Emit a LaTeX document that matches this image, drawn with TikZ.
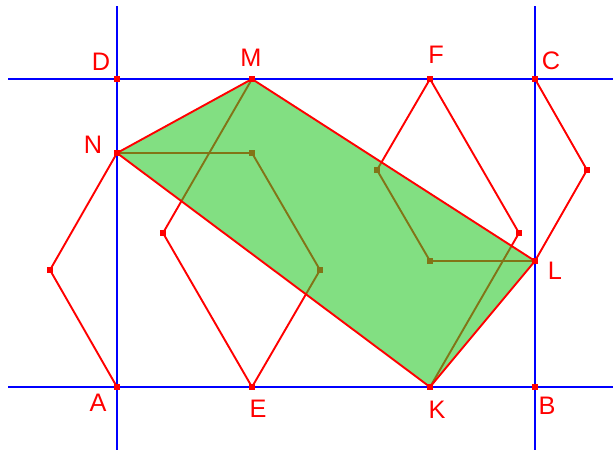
\documentclass[tikz,border=0pt]{standalone}
\usepackage{fontspec}
\setmainfont{Liberation Sans}
\definecolor{polygreen}{RGB}{40,200,40}
\begin{document}
\begin{tikzpicture}[x=0.025cm,y=-0.025cm,
  side/.style={red,line width=1.35pt,line join=round},
  axis/.style={blue,line width=1.5pt},
  lbl/.style={red,font=\fontsize{18}{21}\selectfont}]
  \useasboundingbox (0,0) rectangle (613,450);
  % 長方形の頂点と分点
  \coordinate (A) at (117,387); \coordinate (B) at (535,387);
  \coordinate (C) at (535,79);  \coordinate (D) at (117,79);
  \coordinate (M) at (252,79);  \coordinate (F) at (430,79);
  \coordinate (N) at (117,153); \coordinate (L) at (535,261);
  \coordinate (K) at (430,387); \coordinate (E) at (252,387);
  % 正六角形の残りの頂点
  \coordinate (h1) at (50,270);  \coordinate (h2) at (320,270); \coordinate (h3) at (252,153);
  \coordinate (g1) at (163,233); \coordinate (g2) at (519,233);
  \coordinate (k1) at (377,170); \coordinate (k2) at (430,261); \coordinate (k3) at (587,170);
  % 三つの六角形
  \draw[side] (N) -- (h1) -- (A) -- (E) -- (h2) -- (h3) -- cycle;
  \draw[side] (M) -- (g1) -- (E) -- (K) -- (g2) -- (F) -- cycle;
  \draw[side] (F) -- (k1) -- (k2) -- (L) -- (k3) -- (C) -- cycle;
  \foreach \p in {h2,h3,k1,k2}
    \fill[red] (\p) ++(-3,-3) rectangle ++(6,6);
  % 四角形 NMLK
  \fill[polygreen,fill opacity=0.58] (N) -- (M) -- (L) -- (K) -- cycle;
  \draw[side] (N) -- (M) -- (L) -- (K) -- cycle;
  % 直線
  \draw[axis] (8,79) -- (613,79);
  \draw[axis] (8,387) -- (613,387);
  \draw[axis] (117,6) -- (117,450);
  \draw[axis] (535,6) -- (535,450);
  \foreach \p in {A,B,C,D,M,F,N,L,K,E,h1,g1,g2,k3}
    \fill[red] (\p) ++(-3,-3) rectangle ++(6,6);
  % ラベル
  \node[lbl] (lD) at (101,62) {D};
  \node[lbl] (lM) at (251,58) {M};
  \node[lbl] (lF) at (436,55) {F};
  \node[lbl] (lC) at (551,61) {C};
  \node[lbl] (lN) at (93,145) {N};
  \node[lbl] (lL) at (555,271) {L};
  \node[lbl] (lA) at (98,403) {A};
  \node[lbl] (lE) at (258,409) {E};
  \node[lbl] (lK) at (437,410) {K};
  \node[lbl] (lB) at (547,406) {B};
\end{tikzpicture}
\end{document}
